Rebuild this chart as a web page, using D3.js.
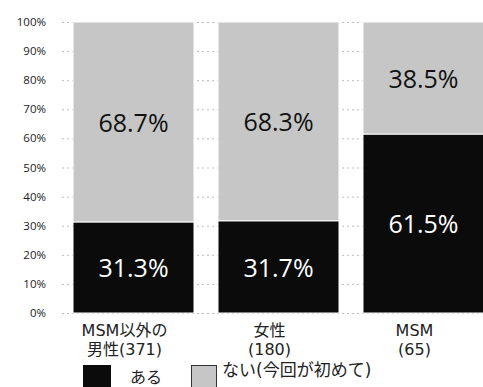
<!DOCTYPE html>
<html>
<head>
<meta charset="utf-8">
<script src="https://cdn.jsdelivr.net/npm/d3@7"></script>
<style>
  html, body { margin: 0; padding: 0; background: #fff; }
  svg { display: block; }
</style>
</head>
<body>
<svg id="chart" width="483" height="387"></svg>
<script>
// Categories (two-line labels) and shares per group
const categories = ["MSM以外の男性(371)", "女性(180)", "MSM(65)"];
const categoryLines = [["MSM以外の", "男性(371)"], ["女性", "(180)"], ["MSM", "(65)"]];
const seriesNames = ["ある", "ない(今回が初めて)"];
const aruValues = [31.3, 31.7, 61.5];
const naiValues = [68.7, 68.3, 38.5];
const yTicks = [0, 10, 20, 30, 40, 50, 60, 70, 80, 90, 100];

const colors = { aru: "#0b0b0b", nai: "#c6c6c6" };
const jpFont = "'DejaVu Sans', 'Noto Sans CJK JP', sans-serif";
const numFont = "'Open Sans', 'Noto Sans', sans-serif";

const svg = d3.select("#chart");

const x = d3.scaleBand()
  .domain(categories)
  .range([61, 496])
  .paddingInner(0.1655)
  .paddingOuter(0.0828);

const y = d3.scaleLinear().domain([0, 100]).range([313, 22]);

// dotted gridlines
svg.append("g")
  .selectAll("line")
  .data(yTicks)
  .join("line")
  .attr("x1", 62).attr("x2", 483)
  .attr("y1", d => y(d) + 0.5).attr("y2", d => y(d) + 0.5)
  .attr("stroke", "#bdbdbd")
  .attr("stroke-width", 1)
  .attr("stroke-dasharray", "2,3");

// y tick labels
svg.append("g")
  .selectAll("text")
  .data(yTicks)
  .join("text")
  .attr("x", 46)
  .attr("y", d => y(d))
  .attr("dy", "0.35em")
  .attr("text-anchor", "end")
  .attr("font-family", numFont)
  .attr("font-size", 11.5)
  .attr("fill", "#222")
  .text(d => d + "%");

const stacked = categories.map((c, i) => ({
  cat: c,
  segs: [
    { key: "aru", v0: 0, v1: aruValues[i], value: aruValues[i] },
    { key: "nai", v0: aruValues[i], v1: aruValues[i] + naiValues[i], value: naiValues[i] }
  ]
}));

const groups = svg.append("g")
  .selectAll("g")
  .data(stacked)
  .join("g");

groups.selectAll("rect")
  .data(d => d.segs.map(s => ({ ...s, cat: d.cat })))
  .join("rect")
  .attr("x", d => x(d.cat))
  .attr("width", x.bandwidth())
  .attr("y", d => y(d.v1))
  .attr("height", d => y(d.v0) - y(d.v1))
  .attr("fill", d => colors[d.key])
  .attr("stroke", "#fff")
  .attr("stroke-width", 1);

// value labels centred in each segment
groups.selectAll("text.val")
  .data(d => d.segs.map(s => ({ ...s, cat: d.cat })))
  .join("text")
  .attr("class", "val")
  .attr("x", d => x(d.cat) + x.bandwidth() / 2)
  .attr("y", d => y((d.v0 + d.v1) / 2) + 1)
  .attr("dy", "0.35em")
  .attr("text-anchor", "middle")
  .attr("font-family", numFont)
  .attr("font-size", 25)
  .attr("fill", d => d.key === "aru" ? "#fff" : "#111")
  .text(d => d.value.toFixed(1) + "%");

// category labels, one text per line
const catGroups = svg.append("g")
  .selectAll("g")
  .data(categories)
  .join("g");

catGroups.selectAll("text")
  .data((d, i) => categoryLines[i].map(t => ({ t, cat: d })))
  .join("text")
  .attr("text-anchor", "middle")
  .attr("font-family", jpFont)
  .attr("font-size", 16)
  .attr("fill", "#222")
  .attr("x", d => x(d.cat) + x.bandwidth() / 2 - 9)
  .attr("y", (d, j) => 336 + j * 19)
  .text(d => d.t);

// legend
const legend = svg.append("g");
legend.append("rect")
  .attr("x", 83).attr("y", 365).attr("width", 28).attr("height", 28)
  .attr("fill", colors.aru);
legend.append("text")
  .attr("x", 130).attr("y", 383)
  .attr("font-family", jpFont).attr("font-size", 16).attr("fill", "#222")
  .text(seriesNames[0]);
legend.append("rect")
  .attr("x", 191.5).attr("y", 365.5).attr("width", 25).attr("height", 28)
  .attr("fill", colors.nai)
  .attr("stroke", "#333").attr("stroke-width", 1);
legend.append("text")
  .attr("x", 222).attr("y", 376)
  .attr("font-family", jpFont).attr("font-size", 17).attr("fill", "#222")
  .text(seriesNames[1]);
</script>
</body>
</html>
